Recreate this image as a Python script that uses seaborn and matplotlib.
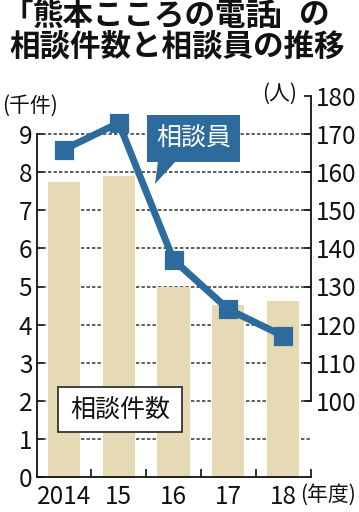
import matplotlib
matplotlib.use('Agg')
import matplotlib.pyplot as plt
import seaborn as sns
import pandas as pd
import numpy as np
from matplotlib.patches import Rectangle, Polygon

# ---- data ----
years = ['2014', '15', '16', '17', '18']
cases_k = [7.76, 7.90, 5.00, 4.51, 4.62]      # 相談件数 (千件)
counselors = [166, 173, 137, 124, 117]         # 相談員 (人)
left_ticks = list(range(0, 10))
right_ticks = list(range(100, 181, 10))

BAR = '#e5dab3'
BLUE = '#2c6b9b'
JP = 'Noto Sans CJK JP'

sns.set_theme(style='ticks')
plt.rcParams['font.family'] = [JP, 'DejaVu Sans']

W, H = 359, 512
fig = plt.figure(figsize=(W / 100, H / 100), dpi=100)
fx = lambda px: px / W
fy = lambda py: 1 - py / H

x0, x1 = 36.5, 310.5
y_bot, y_top = 476.7, 96.3
ax = fig.add_axes([fx(x0), fy(y_bot), (x1 - x0) / W, (y_bot - y_top) / H])

df = pd.DataFrame({'year': years, 'cases': cases_k})
sns.barplot(data=df, x='year', y='cases', color=BAR, saturation=1, width=0.59,
            linewidth=0, ax=ax)
for p in ax.patches:
    p.set_zorder(2)
ax.set_ylim(0, 10)
for v in left_ticks[1:]:
    ax.axhline(v, color='#333333', lw=1.1, ls=(0, (2.2, 1.4)), zorder=1)

ax.set_xlim(-0.5, 4.5)
ax.set_xlabel('')
ax.set_ylabel('')
ax.set_yticks(left_ticks)
ax.set_yticklabels([str(t) for t in left_ticks])
ax.set_xticks(range(len(years)))
ax.set_xticklabels(years)
ax.set_xticks(np.arange(0.5, len(years), 1.0), minor=True)
ax.tick_params(axis='x', which='major', length=0, pad=5, labelsize=17.5, colors='#111111')
ax.tick_params(axis='x', which='minor', direction='in', length=6, width=1.2, color='#111111')
ax.tick_params(axis='y', direction='in', length=5, width=1.2, pad=3, labelsize=17.5,
               colors='#111111')
for s in ['top', 'right']:
    ax.spines[s].set_visible(False)
ax.spines['left'].set_bounds(0, 9)
for s in ['left', 'bottom']:
    ax.spines[s].set_color('#111111')
    ax.spines[s].set_linewidth(1.3)

ax2 = ax.twinx()
sns.pointplot(x=years, y=counselors, ax=ax2, color=BLUE, markers='s',
              markersize=10, linewidth=5, errorbar=None)
ax2.set_xlim(-0.5, 4.5)
ax2.set_ylim(80, 180)
ax2.set_yticks(right_ticks)
ax2.set_yticklabels([str(t) for t in right_ticks])
ax2.tick_params(axis='y', direction='in', length=5, width=1.2, pad=4, labelsize=17.5,
                colors='#111111')
for s in ['top', 'left', 'bottom']:
    ax2.spines[s].set_visible(False)
ax2.spines['right'].set_bounds(100, 180)
ax2.spines['right'].set_color('#111111')
ax2.spines['right'].set_linewidth(1.3)
ax2.set_ylabel('')

# ---- titles & unit labels ----
tkw = dict(va='center', fontsize=22, weight='bold', family=JP, color='#111111')
fig.text(fx(33), fy(16), '「', ha='right', **tkw)
fig.text(fx(33), fy(16), '熊本こころの電話', ha='left', **tkw)
fig.text(fx(268), fy(16), '」', ha='left', **tkw)
fig.text(fx(298), fy(16), 'の', ha='left', **tkw)
fig.text(fx(177), fy(47), '相談件数と相談員の推移', ha='center', **tkw)

fig.text(fx(2), fy(106), '(千件)', ha='left', va='center', fontsize=15, family=JP,
         color='#111111')
fig.text(fx(262), fy(94), '(人)', ha='left', va='center', fontsize=15, family=JP,
         color='#111111')
fig.text(fx(300), fy(495), '(年度)', ha='left', va='center', fontsize=15, family=JP,
         color='#111111')

# ---- callout boxes ----
fig.add_artist(Rectangle((fx(147), fy(162)), 93 / W, 47 / H, transform=fig.transFigure,
                         facecolor=BLUE, edgecolor='none', zorder=5))
fig.add_artist(Polygon([(fx(158), fy(161)), (fx(176), fy(161)), (fx(155), fy(184))],
                       closed=True, transform=fig.transFigure, facecolor=BLUE,
                       edgecolor='none', zorder=5))
fig.text(fx(193.5), fy(139), '相談員', ha='center', va='center', fontsize=18,
         family=JP, color='white', zorder=6)

fig.add_artist(Rectangle((fx(58), fy(432)), 124 / W, 45 / H, transform=fig.transFigure,
                         facecolor='white', edgecolor='#333333', lw=1.3, zorder=5))
fig.text(fx(120), fy(409.5), '相談件数', ha='center', va='center', fontsize=18,
         family=JP, color='#111111', zorder=6)

fig.savefig('out.png', dpi=100)
